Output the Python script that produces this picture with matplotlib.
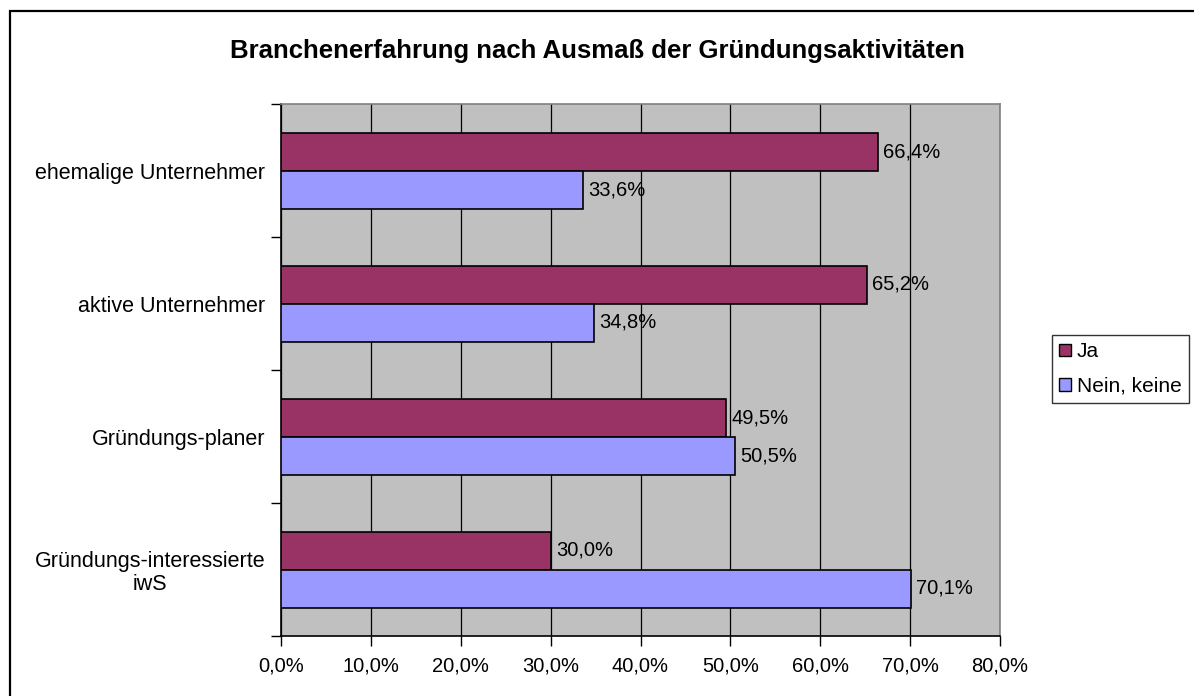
import matplotlib.pyplot as plt
import matplotlib.patches as mpatches
import numpy as np

plt.rcParams['font.family'] = ['Liberation Sans', 'DejaVu Sans']

TITLE = "Branchenerfahrung nach Ausmaß der Gründungsaktivitäten"
categories = ["ehemalige Unternehmer", "aktive Unternehmer",
              "Gründungs-planer", "Gründungs-interessierte\niwS"]
ja = [66.4, 65.2, 49.5, 30.0]
nein = [33.6, 34.8, 50.5, 70.1]
series_names = ["Ja", "Nein, keine"]
xticks = [0, 10, 20, 30, 40, 50, 60, 70, 80]

COL_JA = '#993366'
COL_NEIN = '#9999FF'
PLOT_BG = '#C0C0C0'

W, H = 1194, 696


def pct(v):
    return ("%.1f%%" % v).replace('.', ',')


fig = plt.figure(figsize=(W / 100, H / 100), dpi=100)
fig.patch.set_facecolor('white')

# outer chart frame (runs off the right/bottom edge like the source)
fig.add_artist(mpatches.Rectangle((10 / W, -0.1), 2, 1 - 11 / H + 0.1,
                                  transform=fig.transFigure, fill=False,
                                  edgecolor='black', lw=1.6))

ax = fig.add_axes([281 / W, 1 - 636 / H, (1000 - 281) / W, (636 - 104) / H])
ax.set_facecolor(PLOT_BG)

y = np.arange(len(categories))
bh = 1 / 3.5
ax.barh(y - bh / 2, ja, height=bh, color=COL_JA, edgecolor='black', lw=1.2,
        label=series_names[0], zorder=3)
ax.barh(y + bh / 2, nein, height=bh, color=COL_NEIN, edgecolor='black', lw=1.2,
        label=series_names[1], zorder=3)

for i in range(len(categories)):
    ax.text(ja[i] + 0.6, y[i] - bh / 2, pct(ja[i]), va='center', ha='left',
            fontsize=14.5, zorder=4)
    ax.text(nein[i] + 0.6, y[i] + bh / 2, pct(nein[i]), va='center', ha='left',
            fontsize=14.5, zorder=4)

ax.set_xlim(0, 80)
ax.set_ylim(len(categories) - 0.5, -0.5)

ax.set_xticks(xticks)
ax.set_xticklabels([pct(v) for v in xticks], fontsize=14.5)
ax.tick_params(axis='x', direction='out', length=7, width=1, pad=8)
ax.grid(axis='x', color='black', lw=0.9, zorder=1)

ax.set_yticks(y)
ax.set_yticklabels(categories, fontsize=15.5, multialignment='center',
                   linespacing=1.1)
ax.tick_params(axis='y', which='major', length=0, pad=11.5)
ax.set_yticks(np.arange(len(categories) + 1) - 0.5, minor=True)
ax.tick_params(axis='y', which='minor', direction='out', length=7, width=1)

for s in ['top', 'right']:
    ax.spines[s].set_color('#808080')
    ax.spines[s].set_linewidth(1.2)
for s in ['left', 'bottom']:
    ax.spines[s].set_color('black')
    ax.spines[s].set_linewidth(1.2)

fig.text(597 / W, 1 - 51 / H, TITLE, ha='center', va='center',
         fontsize=18.5, fontweight='bold')

handles = [mpatches.Patch(facecolor=COL_JA, edgecolor='black', label=series_names[0]),
           mpatches.Patch(facecolor=COL_NEIN, edgecolor='black', label=series_names[1])]
leg = fig.legend(handles=handles, loc='upper left',
                 bbox_to_anchor=(1052 / W, 1 - 335 / H), fontsize=15,
                 frameon=True, fancybox=False, handlelength=0.55, handleheight=0.55,
                 handletextpad=0.3, borderpad=0.35, labelspacing=0.75,
                 borderaxespad=0)
leg.get_frame().set_edgecolor('black')
leg.get_frame().set_linewidth(1.0)

fig.savefig('out.png', dpi=100)
